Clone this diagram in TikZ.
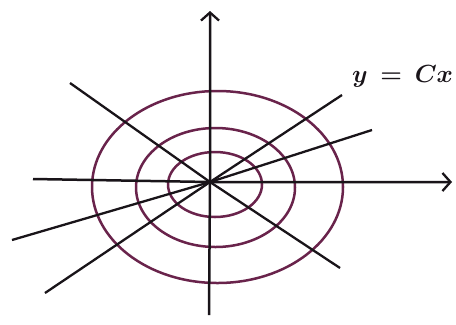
\documentclass[tikz,border=0pt]{standalone}
\usetikzlibrary{arrows.meta}
\definecolor{curvecol}{RGB}{105,35,75}
\definecolor{inkcol}{RGB}{25,20,25}
\begin{document}
\begin{tikzpicture}[x=1bp,y=-1bp,
  axis/.style={draw=inkcol,line width=2.5bp,-{Straight Barb[length=8bp,width=18bp,line width=2.3bp]}},
  ray/.style={draw=inkcol,line width=2.3bp},
  level/.style={draw=curvecol,line width=2.5bp},
  lbl/.style={text=inkcol,font=\fontsize{24}{28}\selectfont\boldmath,inner sep=0pt,anchor=west}]
\useasboundingbox (0,0) rectangle (456,324);
\fill[white] (0,0) rectangle (456,324);
% origin
\coordinate (O) at (210,182);
% level curves
\draw[level] (217.5,187) ellipse [x radius=125.5, y radius=96];
\draw[level] (215.5,187.5) ellipse [x radius=79.5, y radius=59.5];
\draw[level] (215,184.5) ellipse [x radius=47, y radius=32.5];
% rays through origin
\coordinate (n1) at (70,83);
\coordinate (n2) at (340,268);
\coordinate (s1) at (45,293);
\coordinate (s2) at (342,95);
\coordinate (t1) at (12,240);
\coordinate (t2) at (372,130);
\draw[ray] (n1) -- (O) -- (n2);
\draw[ray] (s1) -- (O) -- (s2);
\draw[ray] (t1) -- (O) -- (t2);
% axes
\coordinate (xl) at (33,179);
\coordinate (xr) at (452,182);
\coordinate (yb) at (209,315);
\coordinate (yt) at (210,11);
\draw[axis] (xl) -- (O) -- (xr);
\draw[axis] (yb) -- (O) -- (yt);
% label
\node[lbl] (lab) at (352,76) {$y \,=\, C x$};
\end{tikzpicture}
\end{document}
